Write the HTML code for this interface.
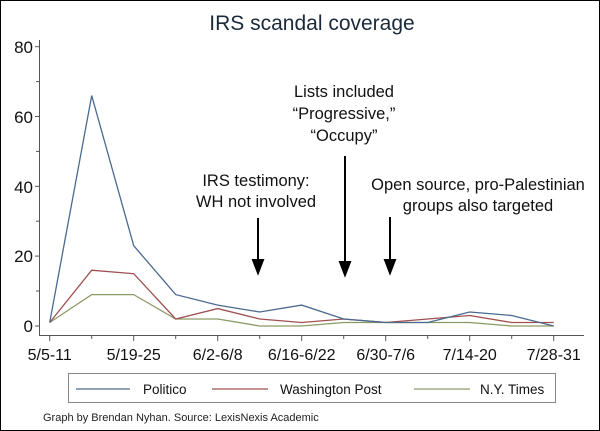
<!DOCTYPE html>
<html><head><meta charset="utf-8"><style>
body{margin:0;background:#fff}
svg{display:block}
text{font-family:"Liberation Sans",sans-serif}
</style></head><body>
<svg width="600" height="431" viewBox="0 0 600 431">
<rect x="0.5" y="0.5" width="599" height="430" fill="#fff" stroke="#000"/>
<text x="312" y="30" font-size="21" text-anchor="middle" fill="#1a2a3a">IRS scandal coverage</text>
<g stroke="#555" stroke-width="1">
<line x1="39.5" y1="40" x2="39.5" y2="335"/>
<line x1="39" y1="335.5" x2="584" y2="335.5"/>
<line x1="35" y1="46.7" x2="39" y2="46.7"/><line x1="36" y1="81.6" x2="39" y2="81.6"/>
<line x1="35" y1="116.5" x2="39" y2="116.5"/><line x1="36" y1="151.4" x2="39" y2="151.4"/>
<line x1="35" y1="186.3" x2="39" y2="186.3"/><line x1="36" y1="221.2" x2="39" y2="221.2"/>
<line x1="35" y1="256.1" x2="39" y2="256.1"/><line x1="36" y1="291" x2="39" y2="291"/>
<line x1="35" y1="326" x2="39" y2="326"/>
</g>
<g stroke="#555">
<line x1="49.7" y1="336" x2="49.7" y2="341"/><line x1="91.7" y1="336" x2="91.7" y2="339"/>
<line x1="133.7" y1="336" x2="133.7" y2="341"/><line x1="175.7" y1="336" x2="175.7" y2="339"/>
<line x1="217.7" y1="336" x2="217.7" y2="341"/><line x1="259.7" y1="336" x2="259.7" y2="339"/>
<line x1="301.7" y1="336" x2="301.7" y2="341"/><line x1="343.7" y1="336" x2="343.7" y2="339"/>
<line x1="385.7" y1="336" x2="385.7" y2="341"/><line x1="427.7" y1="336" x2="427.7" y2="339"/>
<line x1="469.7" y1="336" x2="469.7" y2="341"/><line x1="511.7" y1="336" x2="511.7" y2="339"/>
<line x1="553.7" y1="336" x2="553.7" y2="341"/>
</g>
<g font-size="17" fill="#111" text-anchor="end">
<text x="33" y="53">80</text><text x="33" y="123">60</text><text x="33" y="193">40</text><text x="33" y="262">20</text><text x="33" y="332">0</text>
</g>
<g font-size="16" fill="#111" text-anchor="middle">
<text x="49.7" y="360">5/5-11</text><text x="133.7" y="360">5/19-25</text><text x="217.7" y="360">6/2-6/8</text>
<text x="301.7" y="360">6/16-6/22</text><text x="385.7" y="360">6/30-7/6</text><text x="469.7" y="360">7/14-20</text><text x="553.7" y="360">7/28-31</text>
</g>
<polyline fill="none" stroke="#8a9a66" stroke-width="1.3" points="49.7,322.5 91.7,294.6 133.7,294.6 175.7,319 217.7,319 259.7,326 301.7,326 343.7,322.5 385.7,322.5 427.7,322.5 469.7,322.5 511.7,326 553.7,326"/>
<polyline fill="none" stroke="#a05050" stroke-width="1.3" points="49.7,322.5 91.7,270.2 133.7,273.7 175.7,319 217.7,308.6 259.7,319 301.7,322.5 343.7,319 385.7,322.5 427.7,319 469.7,315.5 511.7,322.5 553.7,322.5"/>
<polyline fill="none" stroke="#4a6a90" stroke-width="1.3" points="49.7,322.5 91.7,95.6 133.7,245.7 175.7,294.6 217.7,305.1 259.7,312 301.7,305.1 343.7,319 385.7,322.5 427.7,322.5 469.7,312 511.7,315.5 553.7,326"/>
<g font-size="16.5" fill="#111" text-anchor="middle">
<text x="256" y="186">IRS testimony:</text><text x="256" y="207">WH not involved</text>
<text x="344" y="97">Lists included</text><text x="344" y="119">“Progressive,”</text><text x="344" y="141">“Occupy”</text>
<text x="478" y="190">Open source, pro-Palestinian</text><text x="478" y="211">groups also targeted</text>
</g>
<g stroke="#000" stroke-width="2" fill="#000">
<line x1="258" y1="218" x2="258" y2="265"/><polygon points="253,260 263,260 258,273"/>
<line x1="345" y1="156" x2="345" y2="266"/><polygon points="340,262 350,262 345,275"/>
<line x1="390" y1="217" x2="390" y2="265"/><polygon points="385,260 395,260 390,273"/>
</g>
<rect x="68.5" y="373.5" width="487" height="29" fill="#fff" stroke="#888"/>
<line x1="76" y1="389" x2="130" y2="389" stroke="#4a6a90" stroke-width="1.3"/>
<line x1="212" y1="389" x2="268" y2="389" stroke="#a05050" stroke-width="1.3"/>
<line x1="414" y1="389" x2="470" y2="389" stroke="#8a9a66" stroke-width="1.3"/>
<g font-size="13.5" fill="#111">
<text x="143" y="394">Politico</text><text x="280" y="394">Washington Post</text><text x="480" y="394">N.Y. Times</text>
</g>
<text x="43" y="421" font-size="11" fill="#222">Graph by Brendan Nyhan. Source: LexisNexis Academic</text>
</svg>
</body></html>
